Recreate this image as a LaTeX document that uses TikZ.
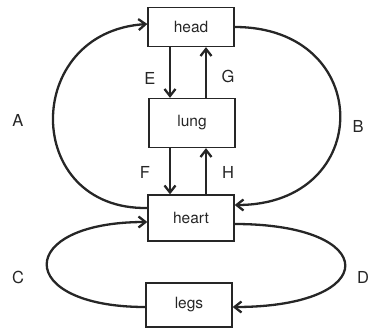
\documentclass[tikz,border=0pt]{standalone}
\usepackage{fontspec}
\setmainfont{TeX Gyre Heros}
\usetikzlibrary{arrows.meta, positioning}
\definecolor{inkgray}{HTML}{262626}

\begin{document}
\begin{tikzpicture}[x=1pt, y=-1pt,
    organ/.style={draw=inkgray, line width=1.3pt, text=inkgray, minimum width=86pt, font=\fontsize{15.5}{17}\selectfont},
    flow/.style={draw=inkgray, line width=2.3pt, -{Straight Barb[length=7pt, width=11pt, line width=2.3pt]}},
    tag/.style={text=inkgray, font=\fontsize{16.5}{18}\selectfont}]
  \useasboundingbox (0,0) rectangle (372,332);
  % organ boxes
  \node[organ, minimum height=39pt] (head)  at (191,27)  {head};
  \node[organ, minimum height=49pt] (lung)  at (192,123) {lung};
  \node[organ, minimum height=46pt] (heart) at (191,218) {heart};
  \node[organ, minimum height=44pt] (legs)  at (189,305) {legs};
  % head <-> lung <-> heart
  \draw[flow] ([xshift=-21pt]head.south) -- ([xshift=-22pt]lung.north);
  \draw[flow] ([xshift=14pt]lung.north) -- ([xshift=15pt]head.south);
  \draw[flow] ([xshift=-22pt]lung.south) -- ([xshift=-21pt]heart.north);
  \draw[flow] ([xshift=15pt]heart.north) -- ([xshift=14pt]lung.south);
  % big loops
  \draw[flow] ([yshift=10pt]heart.west) .. controls (22,210) and (22,32) .. ([yshift=3pt]head.west);
  \draw[flow] (head.east) .. controls (375,27) and (375,205) .. ([yshift=13pt]heart.east);
  \draw[flow] ([yshift=-2pt]legs.west) .. controls (14,307) and (14,222) .. ([yshift=-4pt]heart.west);
  \draw[flow] ([yshift=-6pt]heart.east) .. controls (382,224) and (382,307) .. ([yshift=-2pt]legs.east);
  % labels
  \node[tag] (la) at (18,120)  {A};
  \node[tag] (lb) at (358,126) {B};
  \node[tag] (lc) at (18,277)  {C};
  \node[tag] (ld) at (363,277) {D};
  \node[tag] (le) at (150,78)  {E};
  \node[tag] (lf) at (145,172) {F};
  \node[tag] (lg) at (228,76)  {G};
  \node[tag] (lh) at (228,172) {H};
\end{tikzpicture}
\end{document}
